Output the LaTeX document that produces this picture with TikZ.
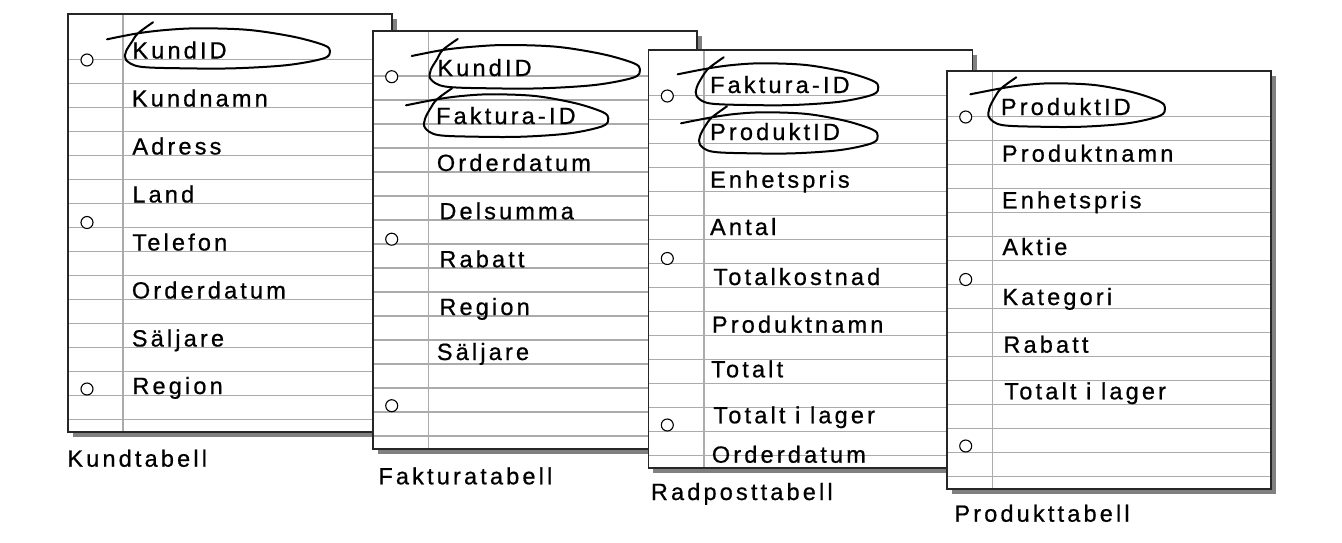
\documentclass[tikz,border=0pt]{standalone}
\usepackage{fontspec}
\setmainfont{Liberation Sans}[LetterSpace=13.5, FakeBold=0.7]
\newcommand\sheet[3]{%
  \fill[sheetshadow] ({#1+5},{#2+5}) rectangle ({#1+329},{#2+423});
  \fill[white] ({#1},{#2}) rectangle ({#1+324},{#2+418});
  \foreach \k in {0,...,15}{\draw[rule] ({#1},{#2+45.5+24*\k}) -- ({#1+324},{#2+45.5+24*\k});}
  \draw[rule] ({#1+#3},{#2}) -- ({#1+#3},{#2+418});
  \draw[sheetedge] ({#1},{#2}) rectangle ({#1+324},{#2+418});
  \foreach \c in {46,208.5,375}{\draw[hole] ({#1+19},{#2+\c}) circle[radius=6];}
}
\newcommand\penloop[4]{%
  \pgfmathsetmacro\lw{#3-#1}%
  \pgfmathsetmacro\lh{#4-#2}%
  \draw[pen] plot[smooth,tension=0.55] coordinates {
    ({#1-19},{#2+11}) ({#1+12},{#2+5}) ({#1+0.2*\lw},{#2+0.04*\lh})
    ({#1+0.36*\lw},{#2}) ({#1+0.6*\lw},{#2+0.04*\lh}) ({#1+0.82*\lw},{#2+0.21*\lh})
    ({#1+0.97*\lw},{#2+0.42*\lh}) ({#3},{#2+0.57*\lh}) ({#1+0.97*\lw},{#2+0.75*\lh})
    ({#1+0.79*\lw},{#2+0.92*\lh}) ({#1+0.53*\lw},{#4}) ({#1+0.28*\lw},{#4})
    ({#1+0.07*\lw},{#2+0.96*\lh}) ({#1},{#2+0.79*\lh}) ({#1},{#2+0.58*\lh})
    ({#1+0.03*\lw},{#2+0.33*\lh}) ({#1+12},{#2+5}) ({#1+27},{#2-6})
  };}
\begin{document}
\begin{tikzpicture}[x=0.5pt,y=-0.5pt,
  lbl/.style={font=\fontsize{11.75pt}{14pt}\selectfont, anchor=base west, inner sep=0pt},
  rule/.style={draw=black!33, line width=0.75pt},
  sheetedge/.style={draw=black!85, line width=0.8pt},
  sheetshadow/.style={fill=black!50},
  hole/.style={draw=black, line width=0.55pt, fill=white},
  pen/.style={draw=black, line width=1pt, line cap=round, line join=round}]
\useasboundingbox (0,0) rectangle (1342,542);

% Kundtabell
\sheet{68}{14}{55}
\node[lbl] (t1a) at (132,58.5) {KundID};
\node[lbl] (t1b) at (131.5,106.5) {Kundnamn};
\node[lbl] (t1c) at (132,154.5) {Adress};
\node[lbl] (t1d) at (132,202.5) {Land};
\node[lbl] (t1e) at (132,250.5) {Telefon};
\node[lbl] (t1f) at (131.5,298.5) {Orderdatum};
\node[lbl] (t1g) at (131.5,346.5) {Säljare};
\node[lbl] (t1h) at (132,394) {Region};
\node[lbl] (c1) at (67,466.7) {Kundtabell};
\penloop{126}{28.3}{330}{68.3}

% Fakturatabell
\sheet{372.7}{30.7}{55.6}
\node[lbl] (t2a) at (437,76) {KundID};
\node[lbl] (t2b) at (435.7,124) {Faktura-ID};
\node[lbl] (t2c) at (436.5,171) {Orderdatum};
\node[lbl] (t2d) at (439,219.3) {Delsumma};
\node[lbl] (t2e) at (439,267.3) {Rabatt};
\node[lbl] (t2f) at (439,315) {Region};
\node[lbl] (t2g) at (436.5,360) {Säljare};
\node[lbl] (c2) at (378,484.3) {Fakturatabell};
\penloop{430.7}{45}{640}{88.3}
\penloop{425}{94.3}{608.3}{136.7}

% Radposttabell
\sheet{648.3}{50}{55.7}
\node[lbl] (t3a) at (709.7,93) {Faktura-ID};
\node[lbl] (t3b) at (709.7,140) {ProduktID};
\node[lbl] (t3c) at (709.7,187.7) {Enhetspris};
\node[lbl] (t3d) at (709.7,235) {Antal};
\node[lbl] (t3e) at (713,285) {Totalkostnad};
\node[lbl] (t3f) at (711.5,332.7) {Produktnamn};
\node[lbl] (t3g) at (710.7,377.3) {Totalt};
\node[lbl] (t3h) at (713,423.3) {Totalt i lager};
\node[lbl] (t3i) at (711.5,462.7) {Orderdatum};
\node[lbl] (c3) at (650.5,500) {Radposttabell};
\penloop{696.7}{63.3}{878.3}{105}
\penloop{700}{112.3}{877.7}{153.3}

% Produkttabell
\sheet{946.7}{71}{46}
\node[lbl] (t4a) at (1000.5,115) {ProduktID};
\node[lbl] (t4b) at (1001.5,161.7) {Produktnamn};
\node[lbl] (t4c) at (1001.5,208.3) {Enhetspris};
\node[lbl] (t4d) at (1002,255) {Aktie};
\node[lbl] (t4e) at (1002,305) {Kategori};
\node[lbl] (t4f) at (1003,352.7) {Rabatt};
\node[lbl] (t4g) at (1004,399.3) {Totalt i lager};
\node[lbl] (c4) at (954,521.7) {Produkttabell};
\penloop{989.3}{83.3}{1165}{126.7}
\end{tikzpicture}
\end{document}
